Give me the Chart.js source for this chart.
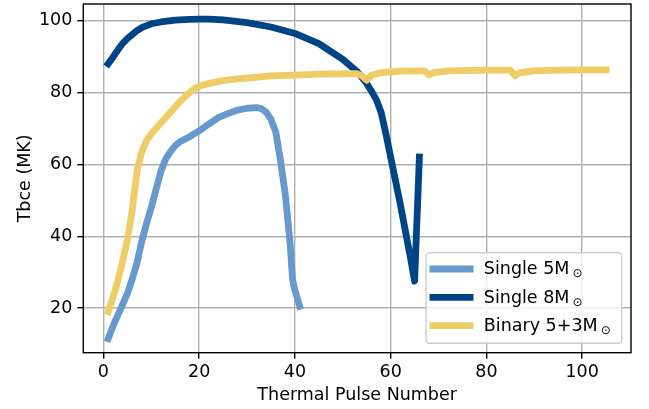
<!DOCTYPE html>
<html lang="en">
  <head>
    <meta charset="UTF-8" />
    <title>Tbce vs thermal pulse number</title>
    <style>
      body {
        margin: 0;
        background: white;
      }
      #wrap {
        width: 649px;
        height: 409px;
      }
    </style>
    <script src="https://cdn.jsdelivr.net/npm/chart.js@4.4.1/dist/chart.umd.min.js"></script>
  </head>
  <body>
    <div id="wrap"><canvas id="tbceChart"></canvas></div>
    <script>
      // values
      var single5X = [1, 2, 3, 4, 5, 6, 7, 8, 9, 10, 11, 12, 13, 14, 15, 16, 18, 20, 22, 24, 26, 28, 30, 32, 33, 34, 35, 36, 37, 38, 39, 39.5, 40, 41];
      var single5Y = [11.5, 15, 18, 21, 24, 28, 32.5, 38.5, 43.5, 48, 53, 58, 61.5, 63.5, 65.2, 66.3, 67.7, 69.3, 71.2, 73, 74.1, 75.1, 75.6, 75.8, 75.5, 74.5, 72.5, 69, 61, 51.5, 38, 28, 25, 20.5];

      var single8X = [1, 2, 3, 4, 5, 6, 7, 8, 10, 12, 15, 18, 20, 22, 25, 30, 35, 40, 45, 50, 53, 55, 56, 57, 58, 59, 60, 61, 62, 63, 64, 65, 66];
      var single8Y = [88, 89.8, 91.8, 93.6, 95, 96.1, 97.2, 98, 99.1, 99.6, 100.1, 100.3, 100.4, 100.4, 100.2, 99.4, 98.2, 96.4, 93.6, 89.2, 85.8, 82.5, 80.3, 78, 74.5, 68.5, 62, 55.5, 49, 42, 35, 27.5, 62];

      var binaryX = [1, 2, 3, 4, 5, 6, 7, 8, 9, 10, 12, 14, 16, 18, 19, 20, 22, 25, 28, 30, 35, 40, 45, 50, 53, 54, 55, 56, 58, 62, 66, 67, 68, 69, 72, 80, 85, 86, 87, 90, 95, 100, 105];
      var binaryY = [19, 23, 27.5, 33, 39, 47, 58, 63.5, 66.5, 68.5, 71.5, 74.5, 77.5, 80, 81, 81.7, 82.5, 83.3, 83.8, 84, 84.6, 84.8, 85.1, 85.2, 85.2, 84.6, 83.4, 84.8, 85.5, 85.9, 86, 86, 84.9, 85.5, 86, 86.2, 86.2, 84.6, 85.5, 86, 86.2, 86.3, 86.3];

      var seriesNames = ["Single 5M", "Single 8M", "Binary 5+3M"];
      var seriesColors = ["#6699cc", "#004488", "#eecc66"];
      var xTicks = [0, 20, 40, 60, 80, 100];
      var yTicks = [20, 40, 60, 80, 100];

      var FONT = "'DejaVu Sans', sans-serif";
      var FS = 17.5;

      function pairs(xs, ys) {
        return xs.map((x, i) => ({ x: x, y: ys[i] }));
      }

      function lineSet(i, xs, ys, order) {
        return {
          label: seriesNames[i] + "\u2299",
          data: pairs(xs, ys),
          borderColor: seriesColors[i],
          backgroundColor: seriesColors[i],
          borderWidth: 6.8,
          borderCapStyle: "square",
          borderJoinStyle: "round",
          pointRadius: 0,
          tension: 0,
          order: order,
        };
      }

      // black frame round the plot plus a matplotlib style legend with the sun subscript
      var framePlugin = {
        id: "frameAndLegend",
        afterDraw(chart) {
          var ctx = chart.ctx;
          var a = chart.chartArea;
          ctx.save();
          ctx.strokeStyle = "black";
          ctx.lineWidth = 1.4;
          ctx.strokeRect(a.left, a.top, a.right - a.left, a.bottom - a.top);

          var main = FS + "px " + FONT;
          var sub = "12px " + FONT;
          var widths = seriesNames.map((n) => {
            ctx.font = main;
            var w = ctx.measureText(n).width;
            ctx.font = sub;
            return w + 3 + ctx.measureText("\u2299").width;
          });
          var boxW = 57.7 + Math.max.apply(null, widths) + 11;
          var boxH = 90.6;
          var right = a.right - 9.3;
          var bottom = a.bottom - 9.4;
          var left = right - boxW;
          var top = bottom - boxH;

          ctx.beginPath();
          ctx.roundRect(left, top, boxW, boxH, 3.5);
          ctx.fillStyle = "rgba(255,255,255,0.8)";
          ctx.fill();
          ctx.strokeStyle = "#cccccc";
          ctx.lineWidth = 1.4;
          ctx.stroke();

          seriesNames.forEach((n, i) => {
            var base = top + 21.6 + i * 28.3;
            ctx.beginPath();
            ctx.strokeStyle = seriesColors[i];
            ctx.lineWidth = 6.8;
            ctx.lineCap = "square";
            ctx.moveTo(left + 6.8, base - 5.3);
            ctx.lineTo(left + 44, base - 5.3);
            ctx.stroke();

            ctx.fillStyle = "black";
            ctx.textBaseline = "alphabetic";
            ctx.textAlign = "left";
            ctx.font = main;
            var tx = left + 57.7;
            ctx.fillText(n, tx, base);
            var w = ctx.measureText(n).width;
            ctx.font = sub;
            ctx.fillText("\u2299", tx + w + 3, base + 3);
          });
          ctx.restore();
        },
      };

      function noOverhang(scale) {
        scale.paddingTop = 0;
        scale.paddingBottom = 0;
        scale.paddingLeft = 0;
        scale.paddingRight = 0;
      }

      var tbceChart = new Chart(document.getElementById("tbceChart"), {
        type: "line",
        data: {
          datasets: [
            lineSet(0, single5X, single5Y, 2),
            lineSet(1, single8X, single8Y, 1),
            lineSet(2, binaryX, binaryY, 0),
          ],
        },
        options: {
          responsive: true,
          maintainAspectRatio: false,
          animation: false,
          layout: {
            padding: { left: 0, right: 18, top: 4, bottom: 0 },
          },
          plugins: {
            legend: { display: false },
            tooltip: { enabled: false },
          },
          scales: {
            x: {
              type: "linear",
              min: -4.2,
              max: 110.2,
              afterBuildTicks: (scale) => {
                scale.ticks = xTicks.map((v) => ({ value: v }));
              },
              afterFit: (scale) => {
                scale.height = 56.3;
                noOverhang(scale);
              },
              grid: {
                color: "#b0b0b0",
                lineWidth: 1.4,
                tickColor: "black",
                tickLength: 6,
                tickWidth: 1.4,
              },
              border: { display: false },
              ticks: {
                color: "black",
                padding: 3,
                maxRotation: 0,
                font: { family: FONT, size: FS },
              },
              title: {
                display: true,
                text: "Thermal Pulse Number",
                color: "black",
                padding: { top: 0, bottom: 3 },
                font: { family: FONT, size: FS },
              },
            },
            y: {
              type: "linear",
              min: 7.6,
              max: 104.6,
              afterBuildTicks: (scale) => {
                scale.ticks = yTicks.map((v) => ({ value: v }));
              },
              afterFit: (scale) => {
                scale.width = 83.3;
                noOverhang(scale);
              },
              grid: {
                color: "#b0b0b0",
                lineWidth: 1.4,
                tickColor: "black",
                tickLength: 6,
                tickWidth: 1.4,
              },
              border: { display: false },
              ticks: {
                color: "black",
                padding: 5,
                font: { family: FONT, size: FS },
              },
              title: {
                display: true,
                text: "Tbce (MK)",
                color: "black",
                padding: { top: 15, bottom: 0 },
                font: { family: FONT, size: FS },
              },
            },
          },
        },
        plugins: [framePlugin],
      });
    </script>
  </body>
</html>
